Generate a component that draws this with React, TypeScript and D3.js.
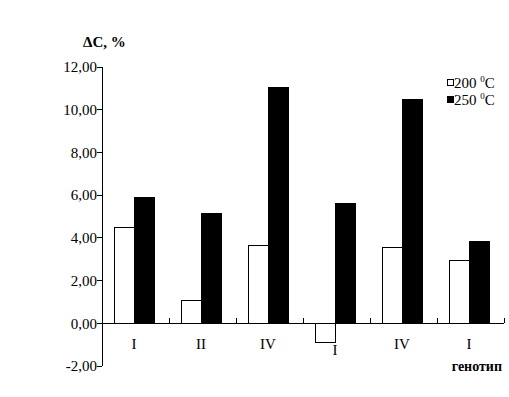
import React from "react";
import * as d3 from "d3";

const genotypes = ["I", "II", "IV", "I", "IV", "I"];
const series = ["200", "250"];
const values200 = [4.49, 1.08, 3.65, -0.89, 3.56, 2.95];
const values250 = [5.87, 5.16, 11.06, 5.62, 10.5, 3.85];
const yTicks = [-2, 0, 2, 4, 6, 8, 10, 12];

const App = () => {
  const width = 509;
  const height = 397;
  const left = 102;
  const right = 504;
  const top = 67;
  const bottom = 366;
  const font = "Liberation Serif, Times New Roman, serif";

  const x0 = d3
    .scaleBand<number>()
    .domain(d3.range(genotypes.length))
    .range([left, right]);
  const x1 = d3.scaleBand<string>().domain(series).range([12, 52]);
  const y = d3.scaleLinear().domain([-2, 12]).range([bottom, top]);
  const fmt = (v: number) => v.toFixed(2).replace(".", ",");

  const rows = genotypes.map((g, i) => ({ g, i, v: [values200[i], values250[i]] }));

  return (
    <svg
      width={width}
      height={height}
      style={{ position: "absolute", left: 0, top: 0, background: "#fff", fontFamily: font }}
    >
      <text x={83} y={47} fontSize={15} fontWeight="bold">
        ΔC, %
      </text>

      {/* бары */}
      {rows.map((r) =>
        series.map((s, j) => {
          const v = r.v[j];
          const y0 = y(Math.max(0, v));
          const y1 = y(Math.min(0, v));
          return (
            <rect
              key={`${r.i}-${s}`}
              x={x0(r.i)! + x1(s)!}
              y={y0}
              width={x1.bandwidth()}
              height={y1 - y0}
              fill={j === 0 ? "#fff" : "#000"}
              stroke="#000"
              strokeWidth={1}
              shapeRendering="crispEdges"
            />
          );
        })
      )}

      {/* ось Y */}
      <line x1={left} x2={left} y1={top} y2={bottom} stroke="#000" shapeRendering="crispEdges" />
      {yTicks.map((t) => (
        <g key={t}>
          <line x1={left - 5} x2={left} y1={y(t)} y2={y(t)} stroke="#000" shapeRendering="crispEdges" />
          <text x={left - 5} y={y(t)} dy="0.35em" textAnchor="end" fontSize={15}>
            {fmt(t)}
          </text>
        </g>
      ))}

      {/* ось X */}
      <line x1={left} x2={right} y1={y(0)} y2={y(0)} stroke="#000" shapeRendering="crispEdges" />
      {rows.map((r) => (
        <line
          key={`t${r.i}`}
          x1={x0(r.i)! + x0.bandwidth()}
          x2={x0(r.i)! + x0.bandwidth()}
          y1={y(0) - 5}
          y2={y(0)}
          stroke="#000"
          shapeRendering="crispEdges"
        />
      ))}
      {rows.map((r) => (
        <text
          key={`l${r.i}`}
          x={x0(r.i)! + x1("250")!}
          y={r.v[0] < 0 ? 355 : 349}
          textAnchor="middle"
          fontSize={15}
        >
          {r.g}
        </text>
      ))}
      <text x={502} y={371} textAnchor="end" fontSize={14} fontWeight="bold">
        генотип
      </text>

      {/* легенда */}
      {series.map((s, j) => (
        <g key={s} transform={`translate(447, ${79 + j * 17})`}>
          <rect width={6} height={6} fill={j === 0 ? "#fff" : "#000"} stroke="#000" shapeRendering="crispEdges" />
          <text x={7} y={9} fontSize={15}>
            {s} <tspan dy={-6} fontSize={9}>0</tspan>
            <tspan dy={6}>C</tspan>
          </text>
        </g>
      ))}
    </svg>
  );
};

export default App;
